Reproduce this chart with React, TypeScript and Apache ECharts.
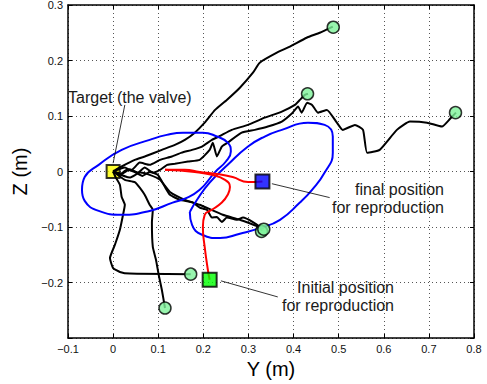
import React, { useEffect, useRef } from "react";
import * as echarts from "echarts";

// ---- data (Y in m, Z in m) ----
const xTickValues = [-0.1, 0, 0.1, 0.2, 0.3, 0.4, 0.5, 0.6, 0.7, 0.8];
const yTickValues = [-0.3, -0.2, -0.1, 0, 0.1, 0.2, 0.3];
const yHiddenTick = -0.3;

const demoA = [[0,0],[0.019,0.009],[0.048,0.021],[0.070,0.027],[0.108,0.039],[0.137,0.048],[0.159,0.057],[0.181,0.070],[0.203,0.088],[0.226,0.111],[0.252,0.129],[0.281,0.151],[0.310,0.178],[0.325,0.196],[0.363,0.214],[0.392,0.225],[0.429,0.241],[0.458,0.250],[0.487,0.261]];
const demoB = [[0,0],[0.026,0.007],[0.040,0.002],[0.059,0.016],[0.081,0.012],[0.104,0.021],[0.130,0.027],[0.152,0.034],[0.175,0.039],[0.197,0.045],[0.219,0.057],[0.237,0.064],[0.263,0.075],[0.299,0.084],[0.336,0.097],[0.374,0.108],[0.403,0.120],[0.414,0.129],[0.425,0.138],[0.432,0.140]];
const demoC = [[0,0],[0.020,-0.004],[0.037,0.004],[0.055,-0.002],[0.070,0.007],[0.088,-0.002],[0.104,0.003],[0.120,0.012],[0.137,0.014],[0.166,0.018],[0.192,0.021],[0.214,0.039],[0.221,0.052],[0.230,0.027],[0.241,0.045],[0.254,0.052],[0.285,0.070],[0.314,0.075],[0.343,0.081],[0.374,0.090],[0.398,0.106],[0.410,0.117],[0.418,0.106],[0.430,0.124],[0.441,0.120],[0.454,0.106],[0.474,0.111],[0.496,0.088],[0.509,0.075],[0.536,0.084],[0.554,0.075],[0.563,0.034],[0.591,0.039],[0.629,0.075],[0.658,0.090],[0.696,0.088],[0.729,0.081],[0.747,0.095],[0.760,0.106]];
const demoD = [[0,0],[0.015,-0.006],[0.030,0.003],[0.048,-0.001],[0.065,-0.008],[0.081,-0.001],[0.099,-0.006],[0.115,-0.028],[0.126,-0.042],[0.148,-0.051],[0.177,-0.056],[0.192,-0.065],[0.208,-0.069],[0.219,-0.083],[0.230,-0.082],[0.241,-0.091],[0.252,-0.083],[0.274,-0.087],[0.288,-0.083],[0.310,-0.091],[0.325,-0.100],[0.330,-0.107]];
const demoE = [[0,0],[0.037,-0.011],[0.060,-0.002],[0.081,-0.006],[0.104,-0.015],[0.126,-0.037],[0.159,-0.051],[0.192,-0.060],[0.243,-0.078],[0.281,-0.087],[0.334,-0.103]];
const demoF = [[0,0],[0.006,-0.011],[0.015,-0.024],[0.019,-0.046],[0.026,-0.060],[0.022,-0.078],[0.015,-0.105],[0.004,-0.132],[-0.007,-0.156],[0.000,-0.174],[0.015,-0.181],[0.037,-0.184],[0.172,-0.185]];
const demoG = [[0,0],[0.026,-0.015],[0.048,-0.019],[0.059,-0.029],[0.070,-0.042],[0.081,-0.060],[0.088,-0.069],[0.086,-0.092],[0.088,-0.136],[0.095,-0.159],[0.101,-0.186],[0.108,-0.213],[0.115,-0.246]];

const ellipseLeft = [[-0.069,-0.033],[-0.063,-0.010],[-0.032,0.012],[0.019,0.039],[0.081,0.057],[0.119,0.066],[0.155,0.070],[0.199,0.070],[0.230,0.063],[0.254,0.052],[0.261,0.036],[0.250,0.018],[0.226,-0.001],[0.192,-0.033],[0.159,-0.049],[0.132,-0.056],[0.081,-0.071],[0.019,-0.078],[-0.032,-0.071],[-0.063,-0.053],[-0.069,-0.033]];
const ellipseRight = [[0.170,-0.073],[0.186,-0.051],[0.214,-0.020],[0.254,0.012],[0.299,0.045],[0.336,0.063],[0.374,0.075],[0.432,0.088],[0.469,0.084],[0.487,0.063],[0.487,0.034],[0.469,-0.002],[0.441,-0.033],[0.414,-0.056],[0.370,-0.087],[0.325,-0.102],[0.281,-0.112],[0.237,-0.120],[0.197,-0.114],[0.175,-0.096],[0.170,-0.073]];

const reproToFinal = [[0.115,0.003],[0.159,0.003],[0.192,-0.001],[0.226,-0.004],[0.265,-0.010],[0.299,-0.019],[0.331,-0.018]];
const reproFromInitial = [[0.214,-0.195],[0.210,-0.177],[0.203,-0.136],[0.199,-0.100],[0.203,-0.078],[0.219,-0.069],[0.241,-0.056],[0.254,-0.042],[0.259,-0.028],[0.248,-0.015],[0.219,-0.006],[0.181,-0.001],[0.115,0.003]];

const demoEnds = [[0.488,0.260],[0.431,0.140],[0.759,0.106],[0.329,-0.108],[0.334,-0.104],[0.172,-0.185],[0.115,-0.246]];
const targetPos = [[0, 0]];
const finalPos = [[0.331, -0.018]];
const initialPos = [[0.214, -0.195]];

const arrowTarget = [[0.026, 0.120], [0.000, 0.015]];
const arrowFinal = [[0.480, -0.047], [0.352, -0.022]];
const arrowInitial = [[0.365, -0.226], [0.239, -0.197]];

const FONT = "'Liberation Sans', Arial, Helvetica, sans-serif";

function fmt(v: number, hide?: number) {
  const r = Math.round(v * 10) / 10;
  if (hide !== undefined && Math.abs(r - hide) < 1e-9) return "";
  if (Math.abs(r) < 1e-9) return "0";
  return r.toFixed(1).replace("-", "\u2212");
}

export default function App() {
  const ref = useRef<HTMLDivElement>(null);
  useEffect(() => {
    document.body.style.margin = "0";
    const chart = echarts.init(ref.current!, null, { renderer: "svg" });
    const blackLine = (data: number[][], extra: any = {}) => ({
      type: "line",
      data,
      showSymbol: false,
      symbol: "none",
      smooth: 0.15,
      z: 3,
      lineStyle: { color: "#000", width: 2 },
      silent: true,
      ...extra,
    });
    const axisCommon = {
      type: "value",
      axisLine: { show: true, onZero: false, lineStyle: { color: "#000", width: 1.5 } },
      axisTick: { show: true, inside: true, length: 4, lineStyle: { color: "#000", width: 1 } },
    };
    chart.setOption({
      animation: false,
      backgroundColor: "#fff",
      grid: { left: 68, right: 13, top: 5, bottom: 46, containLabel: false, outerBoundsMode: "none" },
      xAxis: [
        {
          ...axisCommon,
          min: xTickValues[0],
          max: xTickValues[xTickValues.length - 1],
          interval: 0.1,
          position: "bottom",
          name: "Y (m)",
          nameLocation: "middle",
          nameGap: 17,
          nameTextStyle: { fontSize: 20, color: "#000", fontFamily: FONT },
          axisLabel: { formatter: (v: number) => fmt(v), fontSize: 11, color: "#111", fontFamily: FONT, margin: 5 },
          splitLine: { show: true, lineStyle: { color: "#555", type: [1, 3], width: 1 } },
        },
        {
          ...axisCommon,
          min: xTickValues[0],
          max: xTickValues[xTickValues.length - 1],
          interval: 0.1,
          position: "top",
          axisLabel: { show: false },
          splitLine: { show: false },
        },
      ],
      yAxis: [
        {
          ...axisCommon,
          min: yTickValues[0],
          max: yTickValues[yTickValues.length - 1],
          interval: 0.1,
          position: "left",
          name: "Z (m)",
          nameLocation: "middle",
          nameGap: 30,
          nameTextStyle: { fontSize: 20, color: "#000", fontFamily: FONT },
          axisLabel: { formatter: (v: number) => fmt(v, yHiddenTick), fontSize: 11, color: "#111", fontFamily: FONT, margin: 5 },
          splitLine: { show: true, lineStyle: { color: "#555", type: [1, 3], width: 1 } },
        },
        {
          ...axisCommon,
          min: yTickValues[0],
          max: yTickValues[yTickValues.length - 1],
          interval: 0.1,
          position: "right",
          axisLabel: { show: false },
          splitLine: { show: false },
        },
      ],
      series: [
        {
          type: "scatter",
          data: targetPos,
          symbol: "rect",
          symbolSize: 13,
          z: 2,
          silent: true,
          itemStyle: { color: "#ffff00", borderColor: "#000", borderWidth: 2 },
        },
        blackLine(demoA, {
          markLine: {
            silent: true,
            symbol: ["none", "arrow"],
            symbolSize: [0, 9],
            label: { show: false },
            lineStyle: { color: "#000", width: 0.8, type: "solid" },
            data: [arrowTarget, arrowFinal, arrowInitial].map((a) => [{ coord: a[0] }, { coord: a[1] }]),
          },
        }),
        blackLine(demoB),
        blackLine(demoC),
        blackLine(demoD),
        blackLine(demoE),
        blackLine(demoF),
        blackLine(demoG),
        {
          type: "line", data: ellipseLeft, showSymbol: false, symbol: "none", smooth: 0.5, z: 4, silent: true,
          lineStyle: { color: "#0000ff", width: 2 },
        },
        {
          type: "line", data: ellipseRight, showSymbol: false, symbol: "none", smooth: 0.5, z: 4, silent: true,
          lineStyle: { color: "#0000ff", width: 2 },
        },
        {
          type: "line", data: reproToFinal, showSymbol: false, symbol: "none", smooth: 0.5, z: 5, silent: true,
          lineStyle: { color: "#ff0000", width: 2 },
        },
        {
          type: "line", data: reproFromInitial, showSymbol: false, symbol: "none", smooth: 0.5, z: 5, silent: true,
          lineStyle: { color: "#ff0000", width: 2 },
        },
        {
          type: "scatter", data: demoEnds, symbol: "circle", symbolSize: 12, z: 6, silent: true,
          itemStyle: { color: "#7ef29a", borderColor: "#000", borderWidth: 1.5 },
        },
        {
          type: "scatter", data: finalPos, symbol: "rect", symbolSize: 14, z: 6, silent: true,
          itemStyle: { color: "#0000ff", borderColor: "#000", borderWidth: 2 },
        },
        {
          type: "scatter", data: initialPos, symbol: "rect", symbolSize: 14, z: 6, silent: true,
          itemStyle: { color: "#00ff00", borderColor: "#000", borderWidth: 2 },
        },
      ],
      graphic: [
        { type: "text", x: 68, y: 97, z: 10, style: { text: "Target (the valve)", fill: "#1a1a1a", fontSize: 16, fontFamily: FONT, textAlign: "left", textVerticalAlign: "middle" } },
        { type: "text", x: 444, y: 189, z: 10, style: { text: "final position", fill: "#1a1a1a", fontSize: 16, fontFamily: FONT, textAlign: "right", textVerticalAlign: "middle" } },
        { type: "text", x: 444, y: 207, z: 10, style: { text: "for reproduction", fill: "#1a1a1a", fontSize: 16, fontFamily: FONT, textAlign: "right", textVerticalAlign: "middle" } },
        { type: "text", x: 394, y: 287, z: 10, style: { text: "Initial position", fill: "#1a1a1a", fontSize: 16, fontFamily: FONT, textAlign: "right", textVerticalAlign: "middle" } },
        { type: "text", x: 394, y: 305, z: 10, style: { text: "for reproduction", fill: "#1a1a1a", fontSize: 16, fontFamily: FONT, textAlign: "right", textVerticalAlign: "middle" } },
      ],
    });
    return () => chart.dispose();
  }, []);
  return <div ref={ref} style={{ width: 487, height: 384 }} />;
}
